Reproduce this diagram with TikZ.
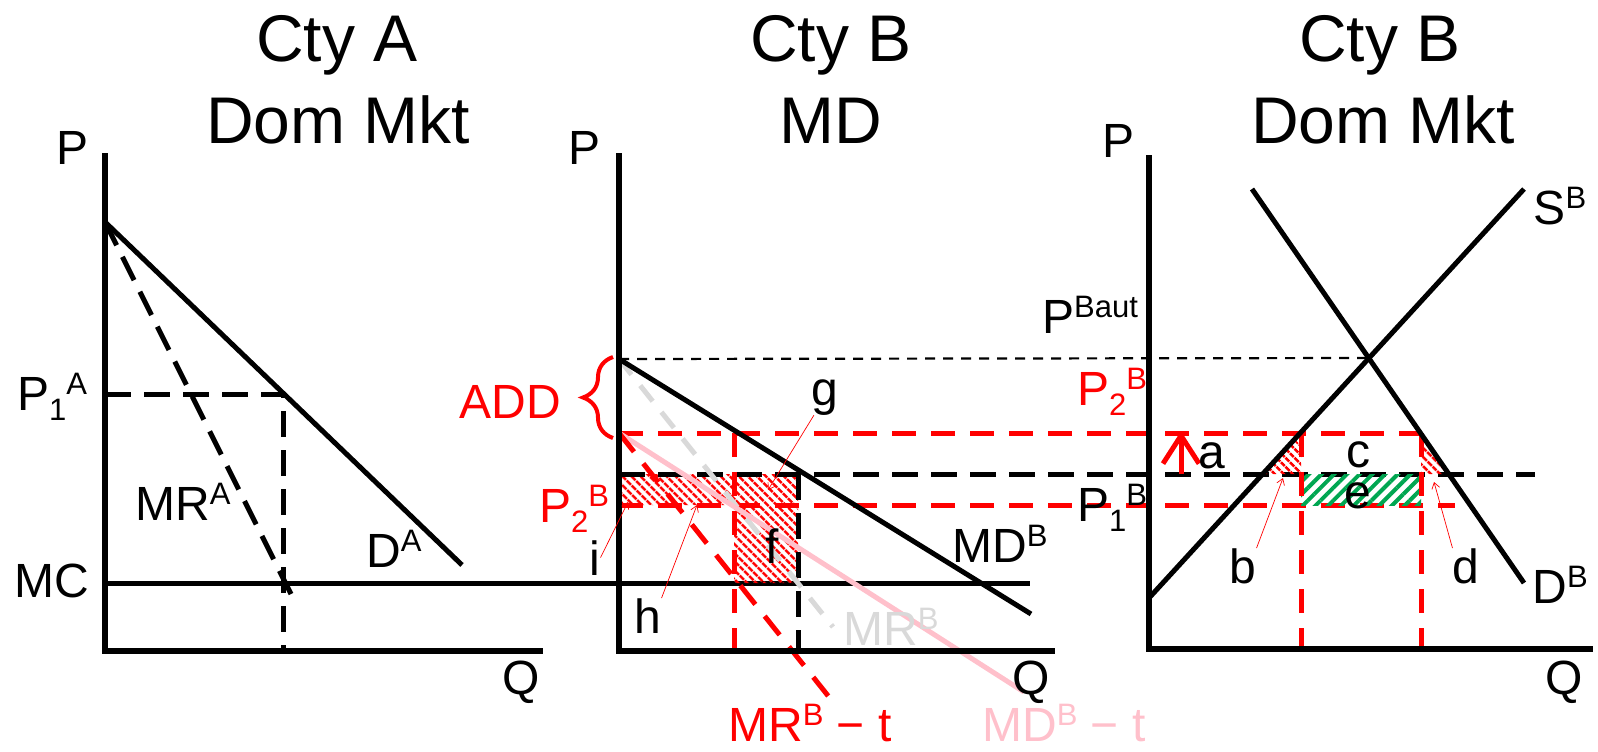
\documentclass[tikz,border=0pt]{standalone}
\usepackage{fontspec}
\setmainfont{Liberation Sans}
\usetikzlibrary{patterns.meta, decorations.pathreplacing, arrows.meta}

\definecolor{mdpink}{RGB}{255,192,203}
\definecolor{mrgray}{RGB}{217,217,217}
\definecolor{gaingreen}{RGB}{0,166,81}

\newcommand{\upidx}[1]{\raisebox{0.33em}{\fontsize{31}{31}\selectfont #1}}
\newcommand{\dnidx}[1]{\raisebox{-0.22em}{\fontsize{31}{31}\selectfont #1}}

\begin{document}
\begin{tikzpicture}[x=1pt, y=-1pt,
  title/.style={font=\fontsize{66}{70}\selectfont, inner sep=0pt, anchor=base},
  lbl/.style={font=\fontsize{48}{50}\selectfont, inner sep=0pt, anchor=base},
  axisline/.style={line width=5.5pt, line join=miter},
  demand/.style={line width=5pt},
  blackdash/.style={line width=5pt, dash pattern=on 26pt off 13pt},
  reddash/.style={red, line width=5pt, dash pattern=on 24pt off 15pt},
  thindash/.style={line width=2.2pt, dash pattern=on 10pt off 8pt},
  graydash/.style={mrgray, line width=5pt, dash pattern=on 20pt off 14pt},
  pinkline/.style={mdpink, line width=5pt},
  pointer/.style={red, line width=0.7pt, -{Straight Barb[length=6pt, width=8pt]}},
  redhatch/.style={pattern={Lines[angle=-45, distance=6.5pt, line width=3pt]}, pattern color=red},
  greenhatch/.style={pattern={Lines[angle=45, distance=9pt, line width=4pt]}, pattern color=gaingreen}]
\useasboundingbox (0,0) rectangle (1598,752);

% titles
\node[title] (titleA1) at (337,62) {Cty A};
\node[title] (titleA2) at (338,143) {Dom Mkt};
\node[title] (titleM1) at (831,62) {Cty B};
\node[title] (titleM2) at (831,143) {MD};
\node[title] (titleB1) at (1380,62) {Cty B};
\node[title] (titleB2) at (1383,143) {Dom Mkt};

% Cty A
\coordinate (topA) at (105,153);
\coordinate (oA) at (105,651);
\coordinate (endA) at (543,651);
\coordinate (dAtop) at (105,222);
\coordinate (dAend) at (462,565);
\coordinate (mrAend) at (293,598);
\coordinate (pAaxis) at (105,394);
\coordinate (pA) at (283,394);
\coordinate (qA) at (283,651);
\coordinate (mcA) at (105,583);
\coordinate (mcEnd) at (1030,583);

\draw[blackdash] (pAaxis) -- (pA) -- (qA);
\draw[blackdash] (dAtop) -- (mrAend);
\draw[demand] (dAtop) -- (dAend);
\draw[demand] (mcA) -- (mcEnd);
\draw[axisline] (topA) -- (oA) -- (endA);

\node[lbl] (pLblA) at (73,164) {P};
\node[lbl] (qLblA) at (521,694) {Q};
\node[lbl] (p1A) at (52,410) {P\dnidx{1}\upidx{A}};
\node[lbl] (mc) at (52,597) {MC};
\node[lbl] (mrA) at (183,520) {MR\upidx{A}};
\node[lbl] (dA) at (394,567) {D\upidx{A}};

% Cty B MD
\coordinate (topM) at (619,153);
\coordinate (oM) at (619,651);
\coordinate (endM) at (1055,651);
\coordinate (mdTop) at (619,359);
\coordinate (mdEnd) at (1031,614);
\coordinate (mrEnd) at (833,627);
\coordinate (mrtTop) at (619,433);
\coordinate (mrtEnd) at (833,702);
\coordinate (mdtEnd) at (1024,692);
\coordinate (aut) at (1369,358);
\coordinate (p2end) at (1421,433);
\coordinate (p1M) at (619,474);
\coordinate (p1end) at (1535,474);
\coordinate (p2lowM) at (619,505);
\coordinate (p2lowEnd) at (1455,505);

\fill[redhatch] (619,474) -- (798,474) -- (798,583) -- (734,583) -- (734,505) -- (619,505) -- cycle;

\draw[thindash] (mdTop) -- (aut);
\draw[reddash] (mrtTop) -- (p2end);
\draw[blackdash] (p1M) -- (p1end);
\draw[reddash] (p2lowM) -- (p2lowEnd);
\draw[reddash] (734,433) -- (734,651);
\draw[blackdash] (798,474) -- (798,651);
\draw[graydash] (mdTop) -- (mrEnd);
\draw[pinkline] (mrtTop) -- (mdtEnd);
\draw[reddash] (mrtTop) -- (mrtEnd);
\draw[demand] (mdTop) -- (mdEnd);
\draw[axisline] (topM) -- (oM) -- (endM);
\draw[red, line width=4pt, decorate, decoration={brace, amplitude=30pt}] (613,438) -- (613,357);

\node[lbl] (pLblM) at (585,164) {P};
\node[lbl] (qLblM) at (1031,694) {Q};
\node[lbl, red] (add) at (510,418) {ADD};
\node[lbl, red] (p2M) at (574,522) {P\dnidx{2}\upidx{B}};
\node[lbl] (g) at (825,405) {g};
\node[lbl] (i) at (595,575) {i};
\node[lbl] (h) at (648,633) {h};
\node[lbl] (f) at (772,563) {f};
\node[lbl, mrgray] (mrB) at (891,645) {MR\upidx{B}};
\node[lbl] (mdB) at (1000,562) {MD\upidx{B}};
\node[lbl, red] (mrtB) at (810,741) {MR\upidx{B} − t};
\node[lbl, mdpink] (mdtB) at (1064,741) {MD\upidx{B} − t};

\coordinate (gTip) at (768,490);
\coordinate (iTip) at (628,502);
\coordinate (hTip) at (697,505);
\draw[pointer] (g) -- (gTip);
\draw[pointer] (i.east) -- (iTip);
\draw[pointer] (h.north east) -- (hTip);

% Cty B Dom Mkt
\coordinate (topB) at (1149,155);
\coordinate (oB) at (1149,649);
\coordinate (endB) at (1593,649);
\coordinate (sLow) at (1149,598);
\coordinate (sHigh) at (1524,189);
\coordinate (dHigh) at (1252,189);
\coordinate (dLow) at (1524,583);

\fill[greenhatch] (1301,474) rectangle (1421,505);
\fill[redhatch] (1263,474) -- (1301,433) -- (1301,474) -- cycle;
\fill[redhatch] (1421,433) -- (1447,474) -- (1421,474) -- cycle;

\draw[reddash] (1301,433) -- (1301,649);
\draw[reddash] (1421,433) -- (1421,649);
\draw[demand] (sLow) -- (sHigh);
\draw[demand] (dHigh) -- (dLow);
\draw[axisline] (topB) -- (oB) -- (endB);

\coordinate (arrFoot) at (1181,474);
\coordinate (arrTip) at (1181,431);
\draw[red, line width=5pt, -{Straight Barb[length=28pt, width=36pt]}] (arrFoot) -- (arrTip);

\node[lbl] (pLblB) at (1118,157) {P};
\node[lbl] (qLblB) at (1564,694) {Q};
\node[lbl] (paut) at (1090,333) {P\upidx{Baut}};
\node[lbl, red] (p2B) at (1112,405) {P\dnidx{2}\upidx{B}};
\node[lbl] (p1B) at (1112,521) {P\dnidx{1}\upidx{B}};
\node[lbl] (a) at (1212,468) {a};
\node[lbl] (c) at (1358,467) {c};
\node[lbl] (e) at (1358,508) {e};
\node[lbl] (b) at (1243,583) {b};
\node[lbl] (d) at (1466,583) {d};
\node[lbl] (sB) at (1560,224) {S\upidx{B}};
\node[lbl] (dB) at (1560,603) {D\upidx{B}};

\coordinate (bTip) at (1283,478);
\coordinate (dTip) at (1434,482);
\draw[pointer] (b.north east) -- (bTip);
\draw[pointer] (d.north west) -- (dTip);

\end{tikzpicture}
\end{document}
